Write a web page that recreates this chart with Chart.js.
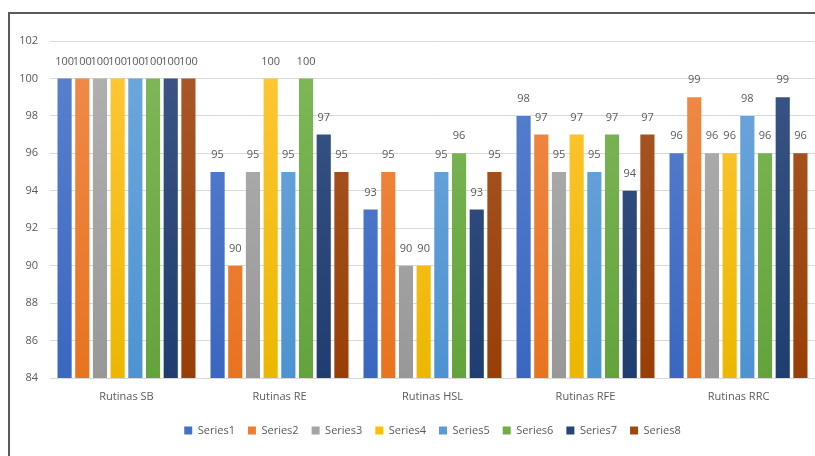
<!DOCTYPE html>
<html>
<head>
<meta charset="utf-8">
<script src="https://cdn.jsdelivr.net/npm/chart.js@4.4.1/dist/chart.umd.min.js"></script>
<style>
  html, body { margin: 0; padding: 0; background: #fff; }
  #wrap { position: relative; width: 815px; height: 456px; overflow: hidden; }
  #frame {
    position: absolute; left: 8px; top: 12px; width: 900px; height: 500px;
    border-left: 2px solid #5a5a5a; border-top: 2px solid #5a5a5a;
  }
  canvas { position: absolute; left: 0; top: 0; }
</style>
</head>
<body>
<div id="wrap">
  <div id="frame"></div>
  <canvas id="chart" width="815" height="456"></canvas>
</div>
<script>
const categories = ['Rutinas SB', 'Rutinas RE', 'Rutinas HSL', 'Rutinas RFE', 'Rutinas RRC'];
const seriesNames = ['Series1', 'Series2', 'Series3', 'Series4', 'Series5', 'Series6', 'Series7', 'Series8'];

const series1 = [100, 95, 93, 98, 96];
const series2 = [100, 90, 95, 97, 99];
const series3 = [100, 95, 90, 95, 96];
const series4 = [100, 100, 90, 97, 96];
const series5 = [100, 95, 95, 95, 98];
const series6 = [100, 100, 96, 97, 96];
const series7 = [100, 97, 93, 94, 99];
const series8 = [100, 95, 95, 97, 96];
const seriesValues = [series1, series2, series3, series4, series5, series6, series7, series8];

// Office palette: solid (legend), top and bottom of the bar gradient
const baseColors = ['#4472C4', '#ED7D31', '#A5A5A5', '#FFC000', '#5B9BD5', '#70AD47', '#264478', '#9E480E'];
const topColors = ['#5b82cf', '#f08c4c', '#b2b2b2', '#ffc83a', '#6fa8dc', '#80b95a', '#3c5687', '#a95a2a'];
const bottomColors = ['#3a67bf', '#e8731f', '#989898', '#ecb700', '#4d93d1', '#63a33c', '#1f3d70', '#983f06'];

const textColor = '#595959';
const font = { family: 'Open Sans', size: 11 };

function barGradient(i) {
  return (ctx) => {
    const area = ctx.chart.chartArea;
    if (!area) return baseColors[i];
    const g = ctx.chart.ctx.createLinearGradient(0, area.top, 0, area.bottom);
    g.addColorStop(0, topColors[i]);
    g.addColorStop(1, bottomColors[i]);
    return g;
  };
}

/** value labels above every bar */
const barLabels = {
  id: 'barLabels',
  afterDatasetsDraw(chart) {
    const { ctx } = chart;
    ctx.save();
    ctx.fillStyle = textColor;
    ctx.font = `${font.size}px "${font.family}"`;
    ctx.textAlign = 'center';
    ctx.textBaseline = 'middle';
    chart.data.datasets.forEach((ds, di) => {
      chart.getDatasetMeta(di).data.forEach((bar, i) => {
        ctx.fillText(String(ds.data[i]), bar.x, bar.y - 17);
      });
    });
    ctx.restore();
  },
};

/** centre the legend under the plot area rather than the whole canvas */
const legendUnderPlot = {
  id: 'legendUnderPlot',
  afterLayout(chart) {
    const lg = chart.legend;
    if (!lg) return;
    const shift = (chart.chartArea.left + chart.chartArea.right) / 2 - (lg.left + lg.right) / 2;
    lg.left += shift;
    lg.right += shift;
  },
};

new Chart(document.getElementById('chart'), {
  type: 'bar',
  data: {
    labels: categories,
    datasets: seriesNames.map((name, i) => ({
      label: name,
      data: seriesValues[i],
      backgroundColor: barGradient(i),
      borderWidth: 0,
      categoryPercentage: 0.925,
      barPercentage: 0.8,
    })),
  },
  options: {
    responsive: false,
    animation: false,
    layout: { padding: { top: 41, left: 0, right: 0, bottom: 10 } },
    plugins: {
      tooltip: { enabled: false },
      legend: {
        position: 'bottom',
        labels: {
          color: textColor,
          font,
          boxWidth: 8,
          boxHeight: 8,
          padding: 13,
          generateLabels(chart) {
            return chart.data.datasets.map((ds, i) => ({
              text: ds.label,
              fillStyle: baseColors[i],
              strokeStyle: baseColors[i],
              lineWidth: 0,
              fontColor: textColor,
              datasetIndex: i,
            }));
          },
        },
      },
    },
    scales: {
      x: {
        grid: { display: false, drawTicks: false },
        border: { display: true, color: '#d9d9d9', width: 1 },
        ticks: { color: textColor, font, padding: 12 },
        afterFit(scale) { scale.height = 34; },
      },
      y: {
        min: 84,
        max: 102,
        grid: { color: '#d9d9d9', drawTicks: false },
        border: { display: false },
        ticks: { stepSize: 2, color: textColor, font, padding: 12 },
        afterFit(scale) { scale.width = 50; },
      },
    },
  },
  plugins: [barLabels, legendUnderPlot],
});
</script>
</body>
</html>
